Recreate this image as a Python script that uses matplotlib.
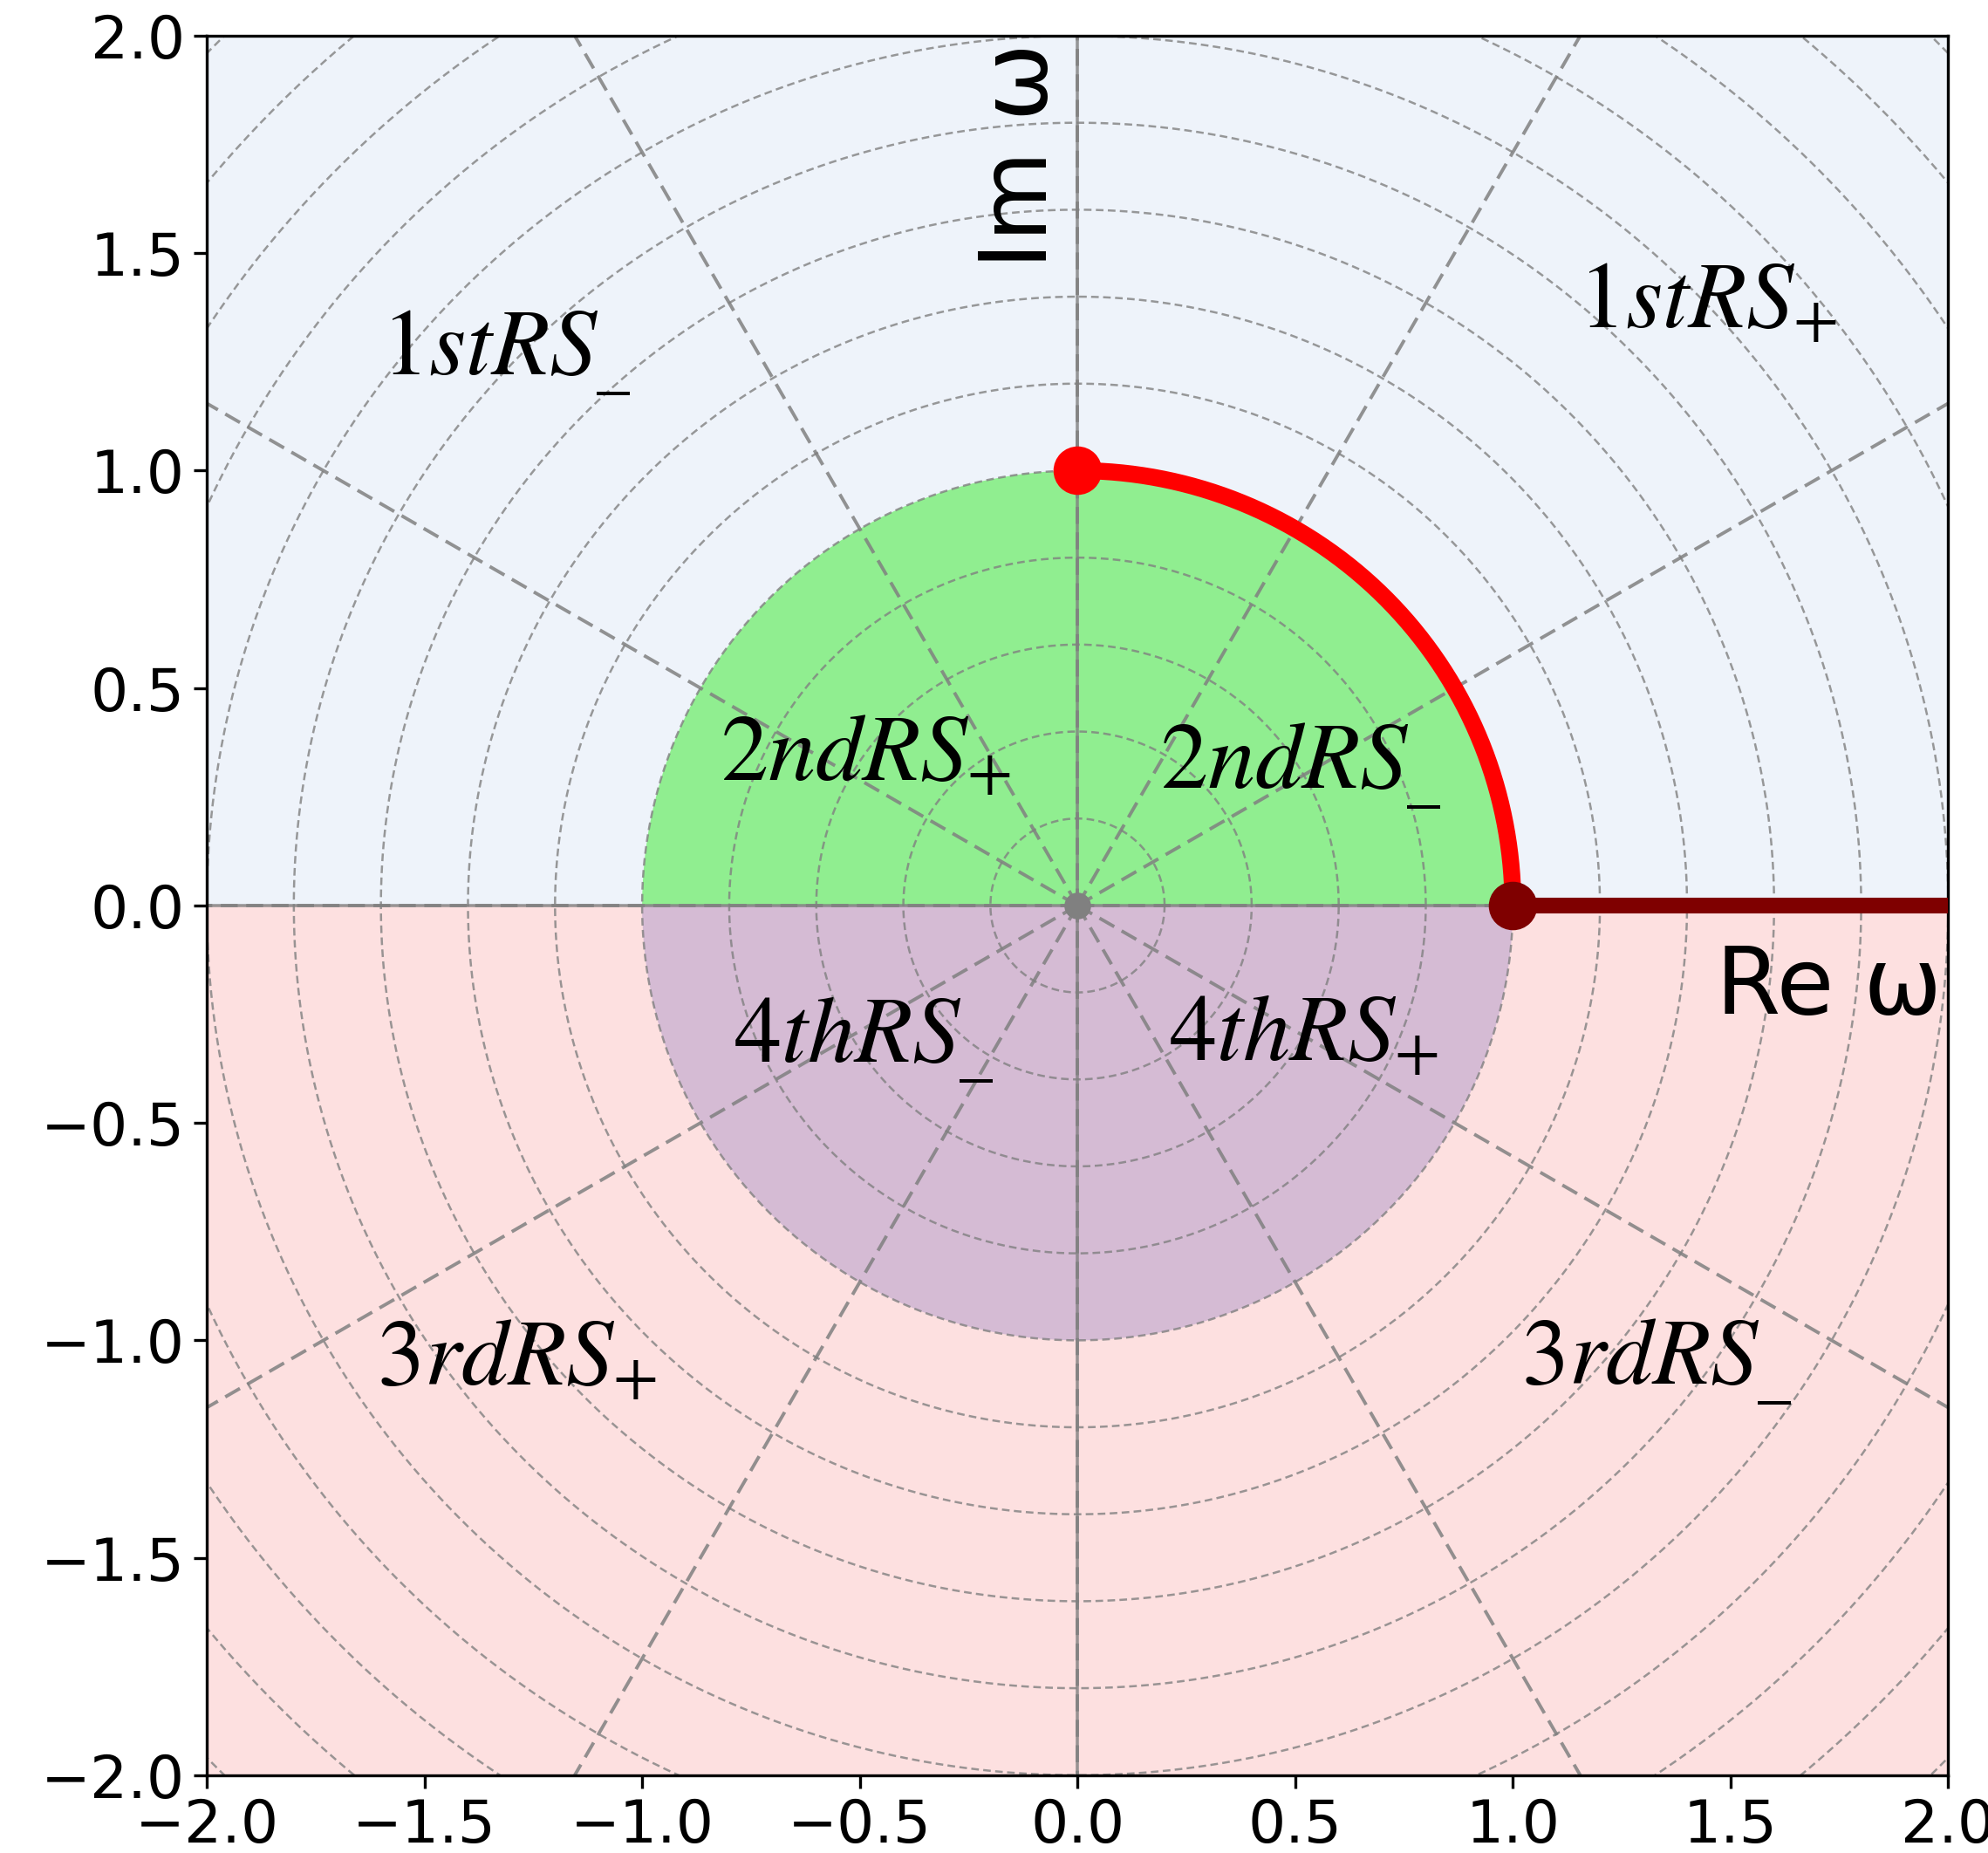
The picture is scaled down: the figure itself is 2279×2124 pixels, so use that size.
import numpy as np
import matplotlib.pyplot as plt
from matplotlib.patches import Wedge

plt.rcParams['mathtext.fontset'] = 'stix'

# grid of the complex omega plane
radii = np.arange(0.2, 3.0, 0.2)
spoke_angles = np.arange(0, 360, 30)

# region names and where they sit
region_labels = [r'$1stRS_{\_}$', r'$1stRS_{+}$', r'$2ndRS_{+}$', r'$2ndRS_{\_}$',
                 r'$4thRS_{\_}$', r'$4thRS_{+}$', r'$3rdRS_{+}$', r'$3rdRS_{\_}$']
label_x = [-1.60, 1.15, -0.82, 0.19, -0.79, 0.21, -1.61, 1.02]
label_y = [1.22, 1.33, 0.29, 0.27, -0.36, -0.355, -1.10, -1.10]

# unit quarter circle and the real axis beyond 1
theta = np.linspace(0, np.pi / 2, 200)
arc_x, arc_y = np.cos(theta), np.sin(theta)
cut_x = [1.0, 2.0]
cut_y = [0.0, 0.0]

fig = plt.figure(figsize=(11.395, 10.62), dpi=200)
ax = fig.add_axes([0.104, 0.042, 0.876, 0.9387])

ax.axhspan(0, 2, color='#eef3fa', zorder=0)
ax.axhspan(-2, 0, color='#fde0e0', zorder=0)
ax.add_patch(Wedge((0, 0), 1, 0, 180, color='#90ee90', zorder=1, lw=0))
ax.add_patch(Wedge((0, 0), 1, 180, 360, color='#d5bbd4', zorder=1, lw=0))

for r in radii:
    t = np.linspace(0, 2 * np.pi, 400)
    ax.plot(r * np.cos(t), r * np.sin(t), color='gray', ls=(0, (3.5, 2)),
            lw=0.9, alpha=0.8, zorder=2)
for a in np.deg2rad(spoke_angles):
    ax.plot([0, 3 * np.cos(a)], [0, 3 * np.sin(a)], color='gray', ls=(0, (5, 2.5)),
            lw=1.4, alpha=0.85, zorder=2)
ax.axhline(0, color='gray', lw=1.3, alpha=0.8, zorder=2)
ax.axvline(0, color='gray', lw=1.3, alpha=0.8, zorder=2)
ax.plot(0, 0, 'o', color='gray', ms=10, zorder=3)

ax.plot(arc_x, arc_y, color='red', lw=7, zorder=4, solid_capstyle='butt')
ax.plot(cut_x, cut_y, color='#7f0000', lw=6.5, zorder=4, solid_capstyle='butt')
ax.plot(0, 1, 'o', color='red', ms=19, zorder=5)
ax.plot(1, 0, 'o', color='#7f0000', ms=19, zorder=5)

for s, x, y in zip(region_labels, label_x, label_y):
    ax.text(x, y, s, fontsize=39, color='black', zorder=6)

ax.text(-0.13, 1.465, 'Im ω', rotation=90, fontsize=38.5, ha='center', va='bottom', zorder=6)
ax.text(1.467, -0.248, 'Re ω', fontsize=38.5, ha='left', va='baseline', zorder=6)

ax.set_xlim(-2, 2)
ax.set_ylim(-2, 2)
ax.set_xticks(np.arange(-2, 2.01, 0.5))
ax.set_yticks(np.arange(-2, 2.01, 0.5))
ax.tick_params(labelsize=24.5, length=5.5, width=1.2)
for sp in ax.spines.values():
    sp.set_linewidth(1.2)

fig.savefig('out.png', dpi=200)
